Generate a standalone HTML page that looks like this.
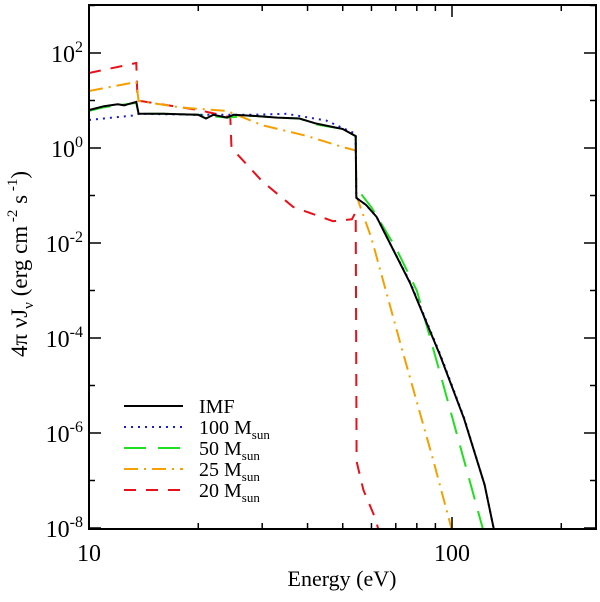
<!DOCTYPE html>
<html><head><meta charset="utf-8"><style>
body{margin:0;background:#fff}
svg text{font-family:"Liberation Serif",serif;fill:#000}
</style></head><body>
<svg id="c" width="600" height="597" xmlns="http://www.w3.org/2000/svg"></svg>
<script>
const seriesNames=["IMF","100 M","50 M","25 M","20 M"];
const imfE=[10,11,12,12.5,13.5,13.7,16,20,21,22,24,25,28,33,38,42,50,54.3,54.5,58,62,67.4,76.6,92.7,108,123,131];
const imfV=[0.8,0.88,0.92,0.9,0.97,0.72,0.72,0.70,0.62,0.70,0.64,0.70,0.68,0.64,0.62,0.52,0.40,0.25,-1.05,-1.2,-1.45,-2.0,-2.84,-4.36,-5.7,-7.09,-8.1];
const m100E=[10,13.5,13.7,20,28,35,45,54.3,54.5,58,62,67.4,76.6,92.7,108,123,131];
const m100V=[0.59,0.69,0.72,0.70,0.70,0.72,0.58,0.3,-1.05,-1.2,-1.45,-2.0,-2.82,-4.33,-5.68,-7.09,-8.1];
const m50E=[10,11,12,13.5,13.7,16,20,24,28,33,38,42,50,54.3,54.5,60,70,80,94,122];
const m50V=[0.78,0.86,0.9,0.95,0.72,0.72,0.70,0.64,0.68,0.64,0.62,0.50,0.40,0.25,-0.84,-1.25,-2.1,-3.0,-4.9,-8.05];
const m25E=[10,13.5,13.7,18,24,30,40,50,54.3,54.5,60,72,89,100];
const m25V=[1.2,1.39,0.99,0.85,0.78,0.48,0.25,0.02,-0.05,-1.0,-1.9,-4.1,-6.6,-8.05];
const m20E=[10,13.5,13.6,20,24.5,24.7,30,36.5,47,53,54.3,54.6,57,61.5,63];
const m20V=[1.58,1.79,1.0,0.8,0.65,0.0,-0.7,-1.24,-1.54,-1.5,-1.35,-6.6,-7.2,-7.8,-8.1];
const yTickExp=[2,0,-2,-4,-6,-8];
const xTickLabels=[10,100];
const L=89,R=596,T=5,B=529;
const xs=e=>L+363*(Math.log10(e)-1);
const ys=v=>148-47.5*v;
const svg=document.getElementById('c');
const NS="http://www.w3.org/2000/svg";
function mk(t,a,p){const el=document.createElementNS(NS,t);for(const k in a)el.setAttribute(k,a[k]);(p||svg).appendChild(el);return el;}
const defs=mk('clipPath',{id:'clip'});mk('rect',{x:L,y:T,width:R-L,height:B-T},defs);
const g=mk('g',{'clip-path':'url(#clip)'});
const styles=[["#000","",2],["#1a1adc","2 5",2],["#22dd22","22 12",2],["#f5a000","14 6 2 6",2],["#e8101a","12 10",2]];
const Es=[imfE,m100E,m50E,m25E,m20E],Vs=[imfV,m100V,m50V,m25V,m20V];
const names=['imf-line','m100-line','m50-line','m25-line','m20-line'];
[4,3,2,1,0].forEach(i=>{
 const d=Es[i].map((e,k)=>(k?'L':'M')+xs(e).toFixed(1)+','+ys(Vs[i][k]).toFixed(1)).join('');
 const p=mk('path',{d:d,fill:'none',stroke:styles[i][0],'stroke-width':styles[i][2],'stroke-dasharray':styles[i][1]},g);
 
 
});
const f=mk('rect',{x:L,y:T,width:R-L,height:B-T,fill:'none',stroke:'#000','stroke-width':2});


for(let e=10;e<=250;e+=(e<100?10:100)){
 const x=xs(e),maj=(e===10||e===100),len=maj?12:6;
 mk('line',{x1:x,y1:B,x2:x,y2:B-len,stroke:'#000','stroke-width':1.5});
 mk('line',{x1:x,y1:T,x2:x,y2:T+len,stroke:'#000','stroke-width':1.5});
}
xTickLabels.forEach(v=>{const t=mk('text',{x:xs(v),y:561,'font-size':24,'text-anchor':'middle'});t.textContent=v;

});
for(let p=-8;p<=3;p++){
 const y=ys(p),len=(p%2===0)?12:6;
 mk('line',{x1:L,y1:y,x2:L+len,y2:y,stroke:'#000','stroke-width':1.5});
 mk('line',{x1:R,y1:y,x2:R-len,y2:y,stroke:'#000','stroke-width':1.5});
}
yTickExp.forEach(p=>{const t=mk('text',{x:83,y:ys(p)+9,'font-size':24,'text-anchor':'end'});
t.innerHTML='10<tspan dy="-10" font-size="16">'+p+'</tspan>';

});
const xt=mk('text',{x:342,y:586,'font-size':22,'text-anchor':'middle'});xt.textContent='Energy (eV)';


const yt=mk('text',{transform:'translate(27,264) rotate(-90)','font-size':23,'text-anchor':'middle'});
yt.innerHTML='4π νJ<tspan dy="6" font-size="15">ν</tspan><tspan dy="-6"> (erg cm</tspan><tspan dy="-10" font-size="15"> -2</tspan><tspan dy="10"> s</tspan><tspan dy="-10" font-size="15"> -1</tspan><tspan dy="10">)</tspan>';


const ly=[406,427,448,469,490];
[0,1,2,3,4].forEach(i=>{
 const l=mk('line',{x1:124,y1:ly[i],x2:183,y2:ly[i],stroke:styles[i][0],'stroke-width':2,'stroke-dasharray':styles[i][1]});
 
 
 const t=mk('text',{x:199,y:ly[i]+7,'font-size':20});
 t.innerHTML=i===0?'IMF':seriesNames[i]+'<tspan dy="5" font-size="13">sun</tspan>';
 
 
});
</script>
</body></html>
